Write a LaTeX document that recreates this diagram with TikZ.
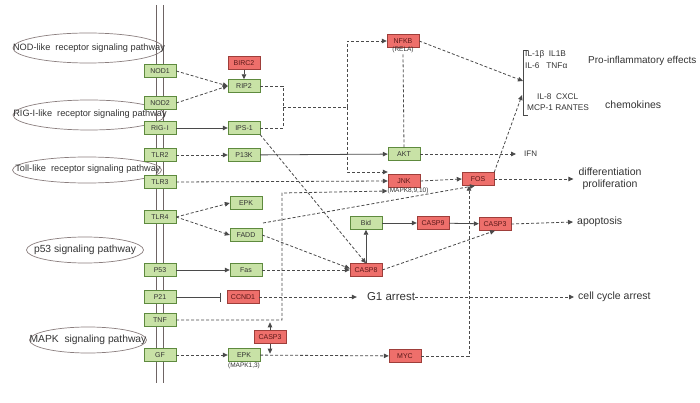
\documentclass[tikz,border=0pt]{standalone}
\usepackage{fontspec}
\setmainfont{Liberation Sans}
\usetikzlibrary{arrows.meta,shapes.geometric}
\definecolor{gfill}{HTML}{C8E2A6}
\definecolor{gdraw}{HTML}{5E8A3E}
\definecolor{rfill}{HTML}{EE6F6B}
\definecolor{rdraw}{HTML}{9E3E3A}
\definecolor{ln}{HTML}{4A4A4A}
\definecolor{txt}{HTML}{333333}
\definecolor{rtxt}{HTML}{5A1818}
\definecolor{ellc}{HTML}{8A7E7E}
\definecolor{memb}{HTML}{6E6464}
\begin{document}
\begin{tikzpicture}[x=1pt,y=-1pt,
  gbox/.style={draw=gdraw,fill=gfill,minimum width=32pt,minimum height=13pt,inner sep=0pt,font=\fontsize{7}{8}\selectfont,text=txt},
  rbox/.style={draw=rdraw,fill=rfill,minimum width=32pt,minimum height=13pt,inner sep=0pt,font=\fontsize{7}{8}\selectfont,text=rtxt},
  ell/.style={ellipse,draw=ellc,line width=0.7pt,inner sep=0pt},
  elltext/.style={inner sep=0pt,font=\fontsize{9.2}{10}\selectfont,text=txt},
  sub/.style={font=\fontsize{6.5}{7}\selectfont,text=txt,inner sep=0pt},
  lab/.style={font=\fontsize{10.5}{12}\selectfont,text=txt,inner sep=0pt},
  small/.style={font=\fontsize{8.3}{9}\selectfont,text=txt,inner sep=0pt,anchor=west},
  dl/.style={draw=ln,line width=0.8pt,dash pattern=on 3pt off 2pt},
  da/.style={dl,-{Triangle[length=5pt,width=4.5pt]}},
  sa/.style={draw=ln,line width=0.8pt,-{Triangle[length=5pt,width=4.5pt]}},
  inh/.style={draw=ln,line width=0.8pt,-{Bar[width=9pt]},shorten >=6pt}]
\useasboundingbox (0,0) rectangle (700,403);
% membrane
\draw[memb,line width=0.9pt] (156,5) -- (156,383);
\draw[memb,line width=0.9pt] (163,5) -- (163,383);
% ellipses
\node[ell,minimum width=150pt,minimum height=30pt] (eNOD) at (88,48) {};
\node[elltext] (tNOD) at (89,48) {NOD-like\ \ receptor signaling pathway};
\node[ell,minimum width=152pt,minimum height=30pt] (eRIG) at (89,115) {};
\node[elltext] (tRIG) at (90,114) {RIG-I-like\ \ receptor signaling pathway};
\node[ell,minimum width=149pt,minimum height=26pt] (eTOLL) at (87,170) {};
\node[elltext] (tTOLL) at (88,169) {Toll-like\ \ receptor signaling pathway};
\node[ell,minimum width=117pt,minimum height=26pt] (eP53) at (85,250) {};
\node[elltext,font=\fontsize{10.3}{11}\selectfont] (tP53) at (85,250) {p53 signaling pathway};
\node[ell,minimum width=117pt,minimum height=26pt] (eMAPK) at (88,340) {};
\node[elltext,font=\fontsize{10.3}{11}\selectfont] (tMAPK) at (88,340) {MAPK\ \ signaling pathway};
% left column
\node[gbox] (NOD1) at (160,71) {NOD1};
\node[gbox] (NOD2) at (160,103) {NOD2};
\node[gbox] (RIGI) at (160,128) {RIG-\,I};
\node[gbox] (TLR2) at (160,155) {TLR2};
\node[gbox] (TLR3) at (160,182) {TLR3};
\node[gbox] (TLR4) at (160,217) {TLR4};
\node[gbox] (P53) at (160,270) {P53};
\node[gbox] (P21) at (160,297) {P21};
\node[gbox] (TNF) at (160,320) {TNF};
\node[gbox] (GF) at (160,355) {GF};
% second column
\node[rbox] (BIRC2) at (244,63) {BIRC2};
\node[gbox] (RIP2) at (244,86) {RIP2};
\node[gbox] (IPS1) at (244,128) {IPS-1};
\node[gbox] (P13K) at (244,155) {P13K};
\node[gbox] (EPK1) at (246,203) {EPK};
\node[gbox] (FADD) at (246,235) {FADD};
\node[gbox] (Fas) at (246,270) {Fas};
\node[rbox] (CCND1) at (243,297) {CCND1};
\node[rbox] (CASP3a) at (270,337) {CASP3};
\node[gbox] (EPK2) at (244,355) {EPK};
\node[sub] (EPK2lab) at (244,366) {(MAPK1,3)};
% third column
\node[rbox] (NFKB) at (403,41) {NFKB};
\node[sub] (NFKBlab) at (403,50) {(RELA)};
\node[gbox] (AKT) at (404,154) {AKT};
\node[rbox] (JNK) at (404,181) {JNK};
\node[sub] (JNKlab) at (408,191) {(MAPK8,9,10)};
\node[gbox] (Bid) at (366,223) {Bid};
\node[rbox] (CASP8) at (366,270) {CASP8};
\node[rbox] (CASP9) at (433,223) {CASP9};
\node[rbox] (FOS) at (478,179) {FOS};
\node[rbox] (CASP3b) at (495,224) {CASP3};
\node[rbox] (MYC) at (405,356) {MYC};
% outcome texts
\node[lab,font=\fontsize{11.5}{13}\selectfont] (G1) at (391,297) {G1 arrest};
\node[lab,anchor=west] (cca) at (578,297) {cell cycle arrest};
\node[lab,anchor=west] (apop) at (577,222) {apoptosis};
\node[lab,align=center] (diff) at (610,179) {differentiation\\proliferation};
\node[lab,anchor=west,font=\fontsize{8}{9}\selectfont] (IFN) at (524,154) {IFN};
\node[lab,anchor=west,font=\fontsize{10}{12}\selectfont] (pro) at (588,61) {Pro-inflammatory effects};
\node[lab,anchor=west] (chem) at (605,105) {chemokines};
% bracket
\draw[ln,line width=0.8pt] (528,50) -- (523,50) -- (523,115) -- (528,115);
\coordinate (br1) at (523,81);
\coordinate (br2) at (522,95);
\node[small] (il1) at (525,54) {IL-1β\ \ IL1B};
\node[small] (il6) at (525,66) {IL-6\ \ \ TNFα};
\node[small] (il8) at (537,97) {IL-8\ \ CXCL};
\node[small] (mcp) at (527,108) {MCP-1 RANTES};
% connectors
\draw[da] (NOD1.east) -- (RIP2.west);
\draw[da] (NOD2.east) -- (RIP2.west);
\draw[sa] (BIRC2) -- (RIP2);
\draw[sa] (RIGI) -- (IPS1);
\draw[da] (TLR2) -- (P13K);
\draw[sa] (P13K) -- (AKT);
\coordinate (j1) at (283,107);
\coordinate (j2) at (347,107);
\draw[dl] (RIP2.east) -| (j1) |- (IPS1.east);
\draw[dl] (j1) -- (j2);
\draw[da] (j2) |- (NFKB.west);
\draw[da] (j2) |- ([yshift=9pt]JNK.west);
\draw[dl] (AKT.north) -- (NFKBlab.south);
\draw[da] (NFKB.east) -- (br1);
\draw[da] (AKT.east) -- ([xshift=-8pt]IFN.west);
\draw[da] (TLR3.east) -- (JNK.west);
\draw[da] (JNK.east) -- (FOS.west);
\draw[da] (FOS.north east) -- (br2);
\draw[da] (FOS.east) -- ([xshift=-5pt]diff.west);
\draw[da] (IPS1.south east) -- (CASP8.north);
\draw[da] (TLR4.east) -- (EPK1.west);
\draw[da] (TLR4.east) -- (FADD.west);
\draw[da] (FADD.east) -- ([yshift=1.5pt]CASP8.west);
\draw[da] (Fas.east) -- (CASP8.west);
\draw[sa] (P53) -- (Fas);
\draw[inh] (P21.east) -- (CCND1.west);
\draw[da] (CCND1.east) -- ([xshift=-10pt]G1.west);
\draw[da] (G1.east) -- ([xshift=-4pt]cca.west);
\coordinate (tn) at (282,193);
\draw[da] (TNF.east) -| (tn) -- (JNKlab.west);
\draw[sa] (CASP3a.north) -- ++(0,-8);
\draw[sa] (CASP3a.south) -- ++(0,10);
\draw[da] (GF) -- (EPK2);
\draw[da] (EPK2) -- (MYC);
\draw[da] (MYC.east) -| ([xshift=-9pt]FOS.south);
\coordinate (e1) at (263,223);
\draw[da] (e1) -- ([xshift=-3pt]FOS.south);
\draw[sa] (CASP8) -- (Bid);
\draw[sa] (Bid) -- (CASP9);
\draw[sa] (CASP9) -- (CASP3b);
\draw[da] (CASP8.east) -- (CASP3b.south);
\draw[da] (CASP3b.east) -- ([xshift=-4pt]apop.west);
\end{tikzpicture}
\end{document}
